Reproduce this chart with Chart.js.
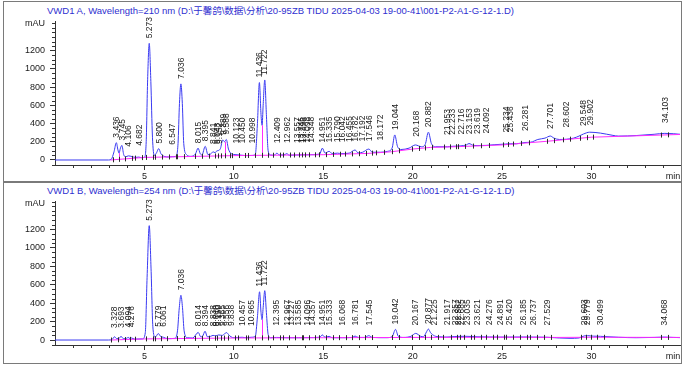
<!DOCTYPE html>
<html><head><meta charset="utf-8">
<script src="https://cdn.jsdelivr.net/npm/chart.js@4.4.1/dist/chart.umd.min.js"></script>
<style>
html,body{margin:0;padding:0;background:#fff;}
#wrap{position:relative;width:683px;height:365px;overflow:hidden;background:#fff;}
canvas{position:absolute;left:0;top:0;}
.frame{position:absolute;border:1px solid #7a7a7a;box-sizing:border-box;}
.title{position:absolute;font:9.5px 'Liberation Sans',Arial,'Noto Sans CJK SC',sans-serif;color:#2f2fd0;white-space:nowrap;line-height:11px;}
</style></head>
<body><div id="wrap">
<div class="frame" style="left:3px;top:1px;width:679px;height:181px"></div>
<div class="frame" style="left:3px;top:182px;width:679px;height:182px"></div>
<div class="title" style="left:47px;top:5px">VWD1 A, Wavelength=210 nm (D:\于馨鸽\数据\分析\20-95ZB TIDU 2025-04-03 19-00-41\001-P2-A1-G-12-1.D)</div>
<div class="title" style="left:47px;top:185px">VWD1 B, Wavelength=254 nm (D:\于馨鸽\数据\分析\20-95ZB TIDU 2025-04-03 19-00-41\001-P2-A1-G-12-1.D)</div>
<canvas id="cA" width="683" height="365"></canvas>
<canvas id="cB" width="683" height="365"></canvas>
</div>
<script>
// ---------- DATA ----------
const yTickValues = [0, 200, 400, 600, 800, 1000, 1200];
const xTickValues = [5, 10, 15, 20, 25, 30];

// Panel A (210 nm): signal
const timeA = [0,3.0,3.15,3.3,3.43,3.52,3.58,3.66,3.74,3.84,3.95,4.1,4.3,4.5,4.68,4.85,5.0,5.1,5.18,5.27,5.36,5.45,5.55,5.68,5.8,5.92,6.1,6.35,6.55,6.75,6.88,6.96,7.04,7.12,7.2,7.35,7.6,7.85,8.0,8.12,8.22,8.4,8.55,8.7,8.84,8.95,9.05,9.15,9.25,9.38,9.48,9.58,9.7,9.85,10.0,10.12,10.3,10.45,10.7,11.0,11.2,11.32,11.43,11.52,11.58,11.64,11.73,11.82,11.92,12.05,12.25,12.41,12.55,12.8,12.96,13.1,13.5,14.3,14.8,14.95,15.1,15.33,15.5,15.8,16.0,16.45,16.78,16.95,17.2,17.55,17.75,18.2,18.6,18.85,19.0,19.15,19.35,19.8,20.15,20.5,20.7,20.88,21.05,21.3,21.95,22.2,22.7,23.0,23.15,23.4,23.6,24.1,24.6,25.2,25.45,25.8,26.28,26.6,27.0,27.4,27.7,27.9,28.2,28.6,29.0,29.3,29.55,29.9,30.5,31.2,31.5,32.5,33.5,34.1,34.6,34.95];
const signalA = [0,0,8,90,190,110,75,130,160,60,35,45,38,28,32,25,30,200,880,1280,860,250,50,80,125,70,40,33,36,40,180,620,835,620,180,60,40,65,130,70,55,150,60,65,90,80,100,105,125,220,200,225,120,70,60,58,55,52,48,50,60,400,850,500,380,600,878,500,100,55,52,75,55,55,70,52,55,58,65,130,75,95,70,75,70,75,110,78,85,120,85,85,95,130,275,150,115,130,165,145,170,305,180,145,145,150,155,165,180,160,158,160,168,175,178,178,192,195,225,240,263,240,225,228,240,262,285,305,295,270,262,268,282,292,288,282];
// Panel A: baseline
const baseTimeA = [3.1,5.0,7.5,10.0,12.0,15.0,17.5,18.8,20.0,21.0,22.5,25.0,27.5,30.0,32.0,34.95];
const baselineA = [0,28,38,48,52,58,72,90,120,138,146,165,205,250,262,280];
const dropsA = [3.58, 9.48, 11.58];
const peaksA = ["3.436","3.745","4.106","4.682","5.273","5.800","6.547","7.036","8.015","8.395","8.841","9.043","9.152","9.389","9.588","10.123","10.450","10.998","11.436","11.722","12.409","12.962","13.557","13.745","13.898","14.098","14.348","14.951","15.335","15.790","16.042","16.455","16.782","17.192","17.546","18.172","19.044","20.168","20.882","21.953","22.233","22.716","23.153","23.619","24.092","25.234","25.436","26.281","27.701","28.602","29.548","29.902","34.103"];

// Panel B (254 nm): signal
const timeB = [0,3.0,3.2,3.33,3.45,3.6,3.69,3.82,4.0,4.09,4.2,4.28,4.45,4.9,5.05,5.15,5.27,5.37,5.47,5.6,5.78,5.9,6.06,6.3,6.7,6.85,6.95,7.04,7.13,7.22,7.4,7.7,8.01,8.15,8.25,8.39,8.52,8.7,8.84,9.0,9.15,9.35,9.5,9.6,9.7,9.84,10.0,10.46,10.7,10.97,11.2,11.32,11.44,11.52,11.58,11.64,11.73,11.82,11.92,12.05,12.4,12.97,13.6,14.1,14.8,14.95,15.1,15.33,15.5,16.07,16.6,16.78,16.95,17.3,17.55,17.75,18.5,18.85,19.04,19.2,19.5,19.9,20.17,20.45,20.6,20.78,20.88,21.0,21.22,21.5,21.92,22.36,22.7,23.04,23.6,24.28,24.9,25.42,26.18,26.74,27.53,28.2,28.8,29.3,29.6,29.78,30.1,30.5,31.5,32.5,33.5,34.07,34.6,34.95];
const signalB = [0,0,8,35,15,20,40,15,18,28,15,22,10,12,80,680,1240,780,150,30,70,40,30,15,18,100,350,485,350,100,25,22,82,35,40,95,35,40,50,45,55,50,70,80,60,35,25,30,25,30,40,250,523,300,220,350,535,300,60,25,28,25,25,26,30,55,30,40,25,25,28,43,28,28,47,28,25,35,115,40,28,40,72,40,35,90,119,80,45,35,32,38,40,40,35,33,32,32,33,32,30,22,18,22,45,47,42,40,30,25,28,32,28,26];
// Panel B: baseline
const baseTimeB = [3.1,5.0,10.0,15.0,20.0,25.0,28.0,30.0,34.95];
const baselineB = [0,12,22,25,28,30,28,30,28];
const dropsB = [11.58];
const peaksB = ["3.328","3.693","4.094","4.276","5.273","5.779","6.061","7.036","8.014","8.394","8.838","9.010","9.150","9.365","9.556","9.838","10.457","10.965","11.436","11.722","12.395","12.967","13.227","13.585","14.096","14.357","14.951","15.333","16.068","16.781","17.545","19.042","20.167","20.877","21.225","21.917","22.357","22.562","22.685","23.035","23.621","24.276","24.891","25.420","26.185","26.737","27.529","29.603","29.779","30.499","34.068"];

// ---------- DRAWING ----------
const BLUE = '#3a3af2', MAGENTA = '#ff2cff', AXIS = '#333333', TEXT = '#1a1a1a';
const FONT = "'Liberation Sans', Arial, sans-serif";

function interp(ts, vs, t) {
  if (t <= ts[0]) return vs[0];
  for (let i = 1; i < ts.length; i++) {
    if (t <= ts[i]) { const f = (t - ts[i-1]) / (ts[i] - ts[i-1]); return vs[i-1] + f * (vs[i] - vs[i-1]); }
  }
  return vs[vs.length - 1];
}

function makePlugin(p) {
  return {
    id: 'chromo',
    afterDatasetsDraw(chart) {
      const ctx = chart.ctx, xs = chart.scales.x, ys = chart.scales.y;
      ctx.save();
      // magenta drop lines
      ctx.strokeStyle = MAGENTA; ctx.lineWidth = 1;
      p.drops.forEach(t => {
        const x = Math.round(xs.getPixelForValue(t)) + 0.5;
        ctx.beginPath();
        ctx.moveTo(x, ys.getPixelForValue(interp(p.rt, p.sig, t)));
        ctx.lineTo(x, ys.getPixelForValue(interp(p.bt, p.base, t)));
        ctx.stroke();
      });
      // peak start / end marks on the baseline (shared boundaries drawn once)
      const times = p.labels.map(parseFloat);
      const marks = [];
      times.forEach((t, i) => {
        const prev = i > 0 ? times[i-1] : -1e9, next = i < times.length - 1 ? times[i+1] : 1e9;
        [t - Math.min(0.2, (t - prev) / 2), t + Math.min(0.2, (next - t) / 2)].forEach(m => {
          if (!marks.some(q => Math.abs(q - m) < 0.08)) marks.push(m);
        });
      });
      ctx.strokeStyle = '#2a2a2a'; ctx.lineWidth = 1;
      marks.forEach(t => {
        const x = Math.round(xs.getPixelForValue(t)) + 0.5;
        const y = ys.getPixelForValue(interp(p.bt, p.base, t));
        ctx.beginPath(); ctx.moveTo(x, y - 2.5); ctx.lineTo(x, y + 2.5); ctx.stroke();
      });
      // peak labels
      ctx.fillStyle = TEXT; ctx.font = '8.5px ' + FONT;
      ctx.textAlign = 'left'; ctx.textBaseline = 'middle';
      p.labels.forEach(s => {
        const t = parseFloat(s);
        let v = interp(p.rt, p.sig, t);
        p.rt.forEach((ti, i) => { if (Math.abs(ti - t) < 0.06 && p.sig[i] > v) v = p.sig[i]; });
        const x = xs.getPixelForValue(t);
        const ay = ys.getPixelForValue(v);
        const by = ys.getPixelForValue(interp(p.bt, p.base, t));
        const bottom = Math.min(ay - 5, by - 12);
        ctx.save(); ctx.translate(x, bottom); ctx.rotate(-Math.PI / 2); ctx.fillText(s, 0, 0.5); ctx.restore();
      });
      // minor ticks
      ctx.strokeStyle = AXIS; ctx.lineWidth = 1;
      const left = chart.chartArea.left, bot = chart.chartArea.bottom;
      for (let v = -50; v <= ys.max; v += 50) {
        if (v % 200 === 0 && v >= 0 && v <= 1200) continue;
        if (v < ys.min) continue;
        const y = Math.round(ys.getPixelForValue(v)) + 0.5;
        ctx.beginPath(); ctx.moveTo(left - 3, y); ctx.lineTo(left, y); ctx.stroke();
      }
      for (let t = 1; t < xs.max; t += 1) {
        if (t % 5 === 0) continue;
        const x = Math.round(xs.getPixelForValue(t)) + 0.5;
        ctx.beginPath(); ctx.moveTo(x, bot); ctx.lineTo(x, bot + 3); ctx.stroke();
      }
      ctx.fillStyle = TEXT; ctx.font = '9px ' + FONT;
      ctx.textAlign = 'right'; ctx.textBaseline = 'middle';
      ctx.fillText('mAU', left - 10, chart.chartArea.top + 2.5);
      ctx.textAlign = 'center'; ctx.textBaseline = 'top';
      ctx.fillText('min', 673, bot + 7);
      ctx.restore();
    }
  };
}

function makeChart(id, p) {
  const pts = p.rt.map((t, i) => ({ x: t, y: p.sig[i] }));
  const bpts = p.bt.map((t, i) => ({ x: t, y: p.base[i] }));
  return new Chart(document.getElementById(id), {
    type: 'line',
    data: { datasets: [
      { data: bpts, borderColor: MAGENTA, borderWidth: 1, pointRadius: 0, fill: false, tension: 0 },
      { data: pts, borderColor: BLUE, borderWidth: 1, pointRadius: 0, fill: false, cubicInterpolationMode: 'monotone' }
    ]},
    options: {
      responsive: false, animation: false, devicePixelRatio: 1,
      layout: { padding: { left: 0, right: 3, top: p.top, bottom: p.padBottom } },
      plugins: { legend: { display: false }, tooltip: { enabled: false } },
      scales: {
        x: {
          type: 'linear', min: 0, max: 34.95,
          afterFit: s => { s.height = 15; },
          afterBuildTicks: s => { s.ticks = xTickValues.map(v => ({ value: v })); },
          grid: { drawOnChartArea: false, tickLength: 5, color: AXIS },
          border: { color: AXIS },
          ticks: { font: { size: 9, family: FONT }, color: TEXT, padding: 1, maxRotation: 0, autoSkip: false,
                   callback: v => String(v) }
        },
        y: {
          type: 'linear', min: p.ymin, max: p.ymax,
          afterFit: s => { s.width = 55; },
          afterBuildTicks: s => { s.ticks = yTickValues.map(v => ({ value: v })); },
          grid: { drawOnChartArea: false, tickLength: 5, color: AXIS },
          border: { color: AXIS },
          ticks: { font: { size: 9, family: FONT }, color: TEXT, padding: 5, callback: v => String(v) }
        }
      }
    },
    plugins: [makePlugin(p)]
  });
}

makeChart('cA', { rt: timeA, sig: signalA, bt: baseTimeA, base: baselineA, drops: dropsA, labels: peaksA,
  top: 21, padBottom: 185, ymin: -55, ymax: 1525 });
makeChart('cB', { rt: timeB, sig: signalB, bt: baseTimeB, base: baselineB, drops: dropsB, labels: peaksB,
  top: 201, padBottom: 5, ymin: -54, ymax: 1507 });
</script>
</body></html>
